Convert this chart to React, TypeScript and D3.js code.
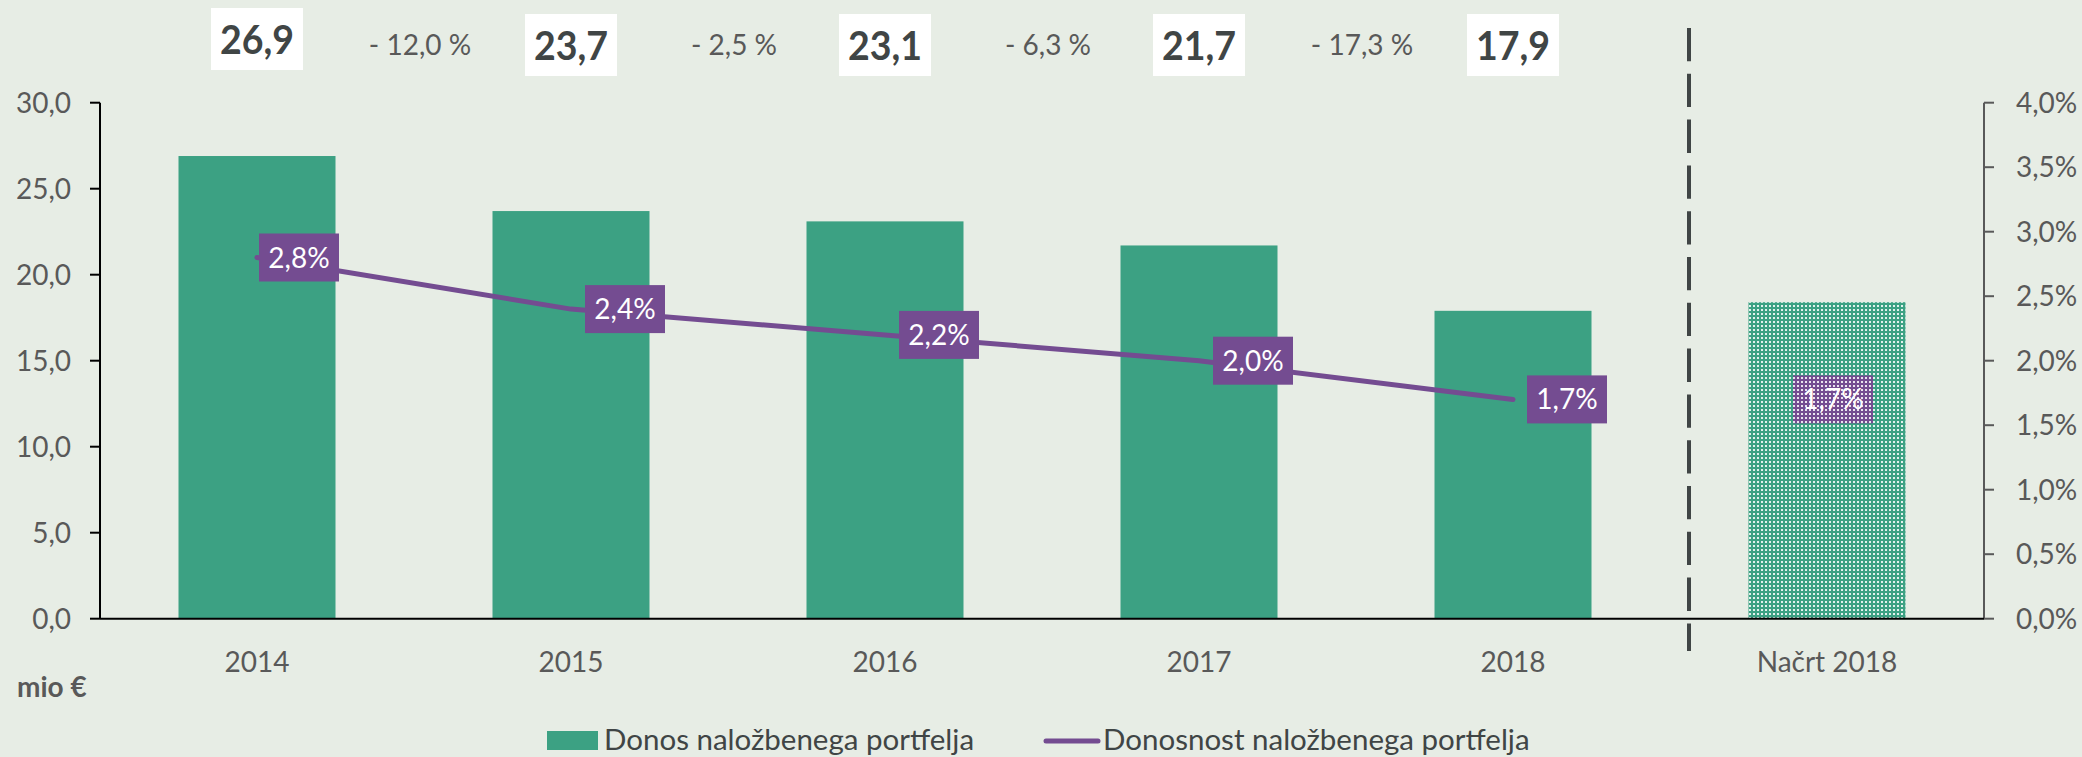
import React from "react";
import * as d3 from "d3";

const categories = ["2014", "2015", "2016", "2017", "2018", "Načrt 2018"];
const incomeValues = [26.9, 23.7, 23.1, 21.7, 17.9, 18.4];
const returnValues = [2.8, 2.4, 2.2, 2.0, 1.7];
const planReturn = 1.7;
const topLabels = ["26,9", "23,7", "23,1", "21,7", "17,9"];
const changeLabels = ["- 12,0 %", "- 2,5 %", "- 6,3 %", "- 17,3 %"];
const leftTicks = [0, 5, 10, 15, 20, 25, 30];
const rightTicks = [0, 0.5, 1, 1.5, 2, 2.5, 3, 3.5, 4];
const legendLabels = ["Donos naložbenega portfelja", "Donosnost naložbenega portfelja"];
const unitLabel = "mio €";

const W = 2082;
const H = 757;
const BG = "#E7EDE5";
const GREEN = "#3CA183";
const PURPLE = "#744C91";
const GRAY = "#595959";
const DARK = "#404545";
const FONT = "Lato, 'Open Sans', sans-serif";

const fmt1 = (v: number) => d3.format(".1f")(v).replace(".", ",");

export default function App() {
  const left = 100;
  const right = 1984;
  const top = 102.7;
  const bottom = 618.7;

  const x = d3
    .scaleBand<string>()
    .domain(categories)
    .range([left, right])
    .paddingInner(0.5)
    .paddingOuter(0.25);
  const y = d3.scaleLinear().domain([0, 30]).range([bottom, top]);
  const y2 = d3.scaleLinear().domain([0, 4]).range([bottom, top]);
  const bw = x.bandwidth();
  const cx = (c: string) => (x(c) as number) + bw / 2;

  const linePts: [number, number][] = returnValues.map((v, i) => [cx(categories[i]), y2(v)]);
  const line = d3.line()(linePts) || "";

  const dividerX = 1689;
  const planCat = categories[5];

  return (
    <svg
      width={W}
      height={H}
      style={{ position: "absolute", left: 0, top: 0, display: "block" }}
      fontFamily={FONT}
    >
      <defs>
        <pattern id="dots" width={4} height={4} patternUnits="userSpaceOnUse">
          <rect x={1} y={1} width={2} height={2} fill="#ffffff" opacity={0.85} />
        </pattern>
      </defs>
      <rect x={0} y={0} width={W} height={H} fill={BG} />

      {/* bars */}
      {incomeValues.slice(0, 5).map((v, i) => (
        <rect
          key={"b" + i}
          x={x(categories[i])}
          y={y(v)}
          width={bw}
          height={y(0) - y(v)}
          fill={GREEN}
        />
      ))}

      {/* plan bar */}
      <rect
        x={x(planCat)}
        y={y(incomeValues[5])}
        width={bw}
        height={y(0) - y(incomeValues[5])}
        fill={GREEN}
      />
      <rect x={cx(planCat) + 6 - 40} y={y2(planReturn) - 24} width={80} height={48} fill={PURPLE} />
      <text
        x={cx(planCat) + 6}
        y={y2(planReturn) + 10}
        textAnchor="middle"
        fontSize={28}
        fill="#ffffff"
      >
        {fmt1(planReturn) + "%"}
      </text>
      <rect
        x={x(planCat)}
        y={y(incomeValues[5])}
        width={bw}
        height={y(0) - y(incomeValues[5])}
        fill="url(#dots)"
      />

      {/* line */}
      <path d={line} fill="none" stroke={PURPLE} strokeWidth={5} strokeLinecap="round" strokeLinejoin="round" />
      {returnValues.map((v, i) => {
        const px = cx(categories[i]);
        const py = y2(v);
        const dx = i === 0 ? 2 : 14;
        return (
          <g key={"l" + i}>
            <rect x={px + dx} y={py - 24} width={80} height={48} fill={PURPLE} />
            <text x={px + dx + 40} y={py + 10} textAnchor="middle" fontSize={28} fill="#ffffff">
              {fmt1(v) + "%"}
            </text>
          </g>
        );
      })}

      {/* axes */}
      <line x1={left} x2={left} y1={top} y2={bottom} stroke="#000" strokeWidth={2} />
      {leftTicks.map((t) => (
        <g key={"lt" + t}>
          <line x1={left - 10} x2={left} y1={y(t)} y2={y(t)} stroke="#000" strokeWidth={2} />
          <text x={71} y={y(t) + 10} textAnchor="end" fontSize={28} fill={GRAY}>
            {fmt1(t)}
          </text>
        </g>
      ))}
      <line x1={right} x2={right} y1={top} y2={bottom} stroke={GRAY} strokeWidth={2} />
      {rightTicks.map((t) => (
        <g key={"rt" + t}>
          <line x1={right} x2={right + 10} y1={y2(t)} y2={y2(t)} stroke={GRAY} strokeWidth={2} />
          <text x={2016} y={y2(t) + 10} textAnchor="start" fontSize={28} fill={GRAY}>
            {fmt1(t) + "%"}
          </text>
        </g>
      ))}
      <line x1={left} x2={right} y1={bottom} y2={bottom} stroke="#000" strokeWidth={2} />

      {/* category labels */}
      {categories.map((c) => (
        <text key={"c" + c} x={cx(c)} y={672} textAnchor="middle" fontSize={28} fill={GRAY}>
          {c}
        </text>
      ))}
      <text x={17} y={697} fontSize={28} fontWeight="bold" fill={GRAY}>
        {unitLabel}
      </text>

      {/* divider */}
      <line
        x1={dividerX}
        x2={dividerX}
        y1={28}
        y2={651}
        stroke="#404545"
        strokeWidth={4}
        strokeDasharray="33.3 12.5"
      />

      {/* top value boxes */}
      {topLabels.map((t, i) => {
        const c = cx(categories[i]);
        const by = i === 0 ? 8 : 14;
        return (
          <g key={"tv" + i}>
            <rect x={c - 46} y={by} width={92} height={62} fill="#ffffff" />
            <text
              x={c}
              y={by + 46}
              textAnchor="middle"
              fontSize={40}
              fontWeight="bold"
              fill={DARK}
              textLength={74}
              lengthAdjust="spacingAndGlyphs"
            >
              {t}
            </text>
          </g>
        );
      })}
      {changeLabels.map((t, i) => {
        const m = (cx(categories[i]) + cx(categories[i + 1])) / 2 + 6;
        return (
          <text key={"ch" + i} x={m} y={55} textAnchor="middle" fontSize={28} fill={GRAY}>
            {t}
          </text>
        );
      })}

      {/* legend */}
      <rect x={547} y={731} width={51} height={19} fill={GREEN} />
      <text x={604} y={750} fontSize={29.5} fill={DARK}>
        {legendLabels[0]}
      </text>
      <line x1={1046} x2={1098} y1={741} y2={741} stroke={PURPLE} strokeWidth={5} strokeLinecap="round" />
      <text x={1103} y={750} fontSize={29.5} fill={DARK}>
        {legendLabels[1]}
      </text>
    </svg>
  );
}
